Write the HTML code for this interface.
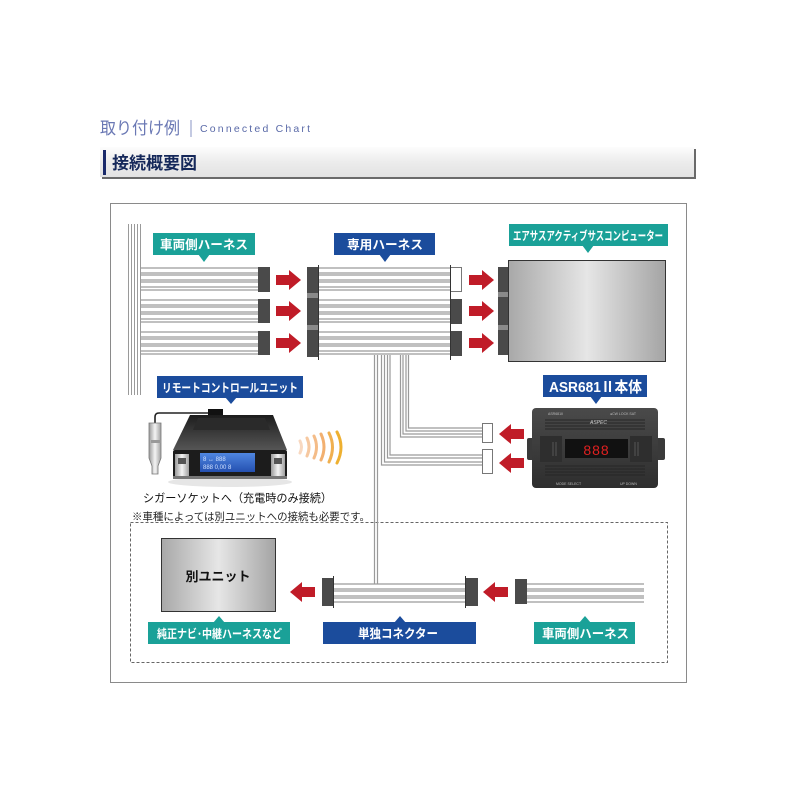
<!DOCTYPE html>
<html><head><meta charset="utf-8"><style>
html,body{margin:0;padding:0;background:#fff;}
svg{display:block;}
text{font-family:"Liberation Sans","Noto Sans CJK JP",sans-serif;}
</style></head><body>
<svg width="800" height="800" viewBox="0 0 800 800" xmlns="http://www.w3.org/2000/svg">
<defs>
<linearGradient id="hdr" x1="0" y1="0" x2="0" y2="1">
<stop offset="0" stop-color="#fdfdfd"/><stop offset="0.5" stop-color="#ececec"/><stop offset="1" stop-color="#e2e2e2"/>
</linearGradient>
<linearGradient id="box" x1="0" y1="0" x2="1" y2="0">
<stop offset="0" stop-color="#a8a8a8"/><stop offset="0.5" stop-color="#e6e6e6"/><stop offset="1" stop-color="#a4a4a4"/>
</linearGradient>
<linearGradient id="dev" x1="0" y1="0" x2="0" y2="1">
<stop offset="0" stop-color="#4a4a4a"/><stop offset="1" stop-color="#2e2e2e"/>
</linearGradient>
<linearGradient id="top" x1="0" y1="0" x2="0" y2="1">
<stop offset="0" stop-color="#1c1c1c"/><stop offset="0.5" stop-color="#3a3a3a"/><stop offset="1" stop-color="#555"/>
</linearGradient>
<linearGradient id="lcd" x1="0" y1="0" x2="0" y2="1">
<stop offset="0" stop-color="#4f86e0"/><stop offset="1" stop-color="#2450b0"/>
</linearGradient>
<linearGradient id="silver" x1="0" y1="0" x2="1" y2="0">
<stop offset="0" stop-color="#9a9a9a"/><stop offset="0.5" stop-color="#f4f4f4"/><stop offset="1" stop-color="#a0a0a0"/>
</linearGradient>
</defs>

<!-- Title -->
<text x="100" y="134" font-size="17" fill="#6a78b4" textLength="80" lengthAdjust="spacingAndGlyphs">取り付け例</text>
<line x1="191" y1="120" x2="191" y2="137" stroke="#8a96c4" stroke-width="1"/>
<text x="200" y="132" font-size="10.5" fill="#5a6aa8" textLength="110" lengthAdjust="spacing">Connected Chart</text>

<!-- Header bar -->
<rect x="102" y="149" width="594" height="30" fill="#6a6a6a"/>
<rect x="100" y="147" width="594" height="30" fill="url(#hdr)"/>
<rect x="103" y="150" width="3" height="25" fill="#1a2a6a"/>
<text x="112" y="169" font-size="17" font-weight="bold" fill="#15285a">接続概要図</text>

<!-- Outer box -->
<rect x="110.5" y="203.5" width="576" height="479" fill="#fff" stroke="#8a8a8a" stroke-width="1"/>
<!-- Dashed box -->
<rect x="130.5" y="522.5" width="537" height="140" fill="none" stroke="#666" stroke-width="1" stroke-dasharray="3,2"/>

<!-- Left vertical wires -->
<g stroke="#9a9a9a" stroke-width="1">
<line x1="128.5" y1="224" x2="128.5" y2="395"/>
<line x1="131.5" y1="224" x2="131.5" y2="395"/>
<line x1="134.5" y1="224" x2="134.5" y2="395"/>
<line x1="137.5" y1="224" x2="137.5" y2="395"/>
<line x1="140.5" y1="224" x2="140.5" y2="395"/>
</g>

<!-- Vehicle harness bundles (top) -->
<g stroke="#9a9a9a" stroke-width="1.2">
<line x1="141" y1="268" x2="258" y2="268"/><line x1="141" y1="273" x2="258" y2="273"/><line x1="141" y1="275" x2="258" y2="275"/><line x1="141" y1="280" x2="258" y2="280"/><line x1="141" y1="282" x2="258" y2="282"/><line x1="141" y1="287" x2="258" y2="287"/><line x1="141" y1="290" x2="258" y2="290"/>
<line x1="141" y1="300" x2="258" y2="300"/><line x1="141" y1="305" x2="258" y2="305"/><line x1="141" y1="307" x2="258" y2="307"/><line x1="141" y1="312" x2="258" y2="312"/><line x1="141" y1="314" x2="258" y2="314"/><line x1="141" y1="319" x2="258" y2="319"/><line x1="141" y1="322" x2="258" y2="322"/>
<line x1="141" y1="332" x2="258" y2="332"/><line x1="141" y1="337" x2="258" y2="337"/><line x1="141" y1="339" x2="258" y2="339"/><line x1="141" y1="344" x2="258" y2="344"/><line x1="141" y1="346" x2="258" y2="346"/><line x1="141" y1="351" x2="258" y2="351"/><line x1="141" y1="354" x2="258" y2="354"/>
</g>
<g fill="#4a4a4a">
<rect x="258" y="267" width="12" height="25"/>
<rect x="258" y="299" width="12" height="24"/>
<rect x="258" y="331" width="12" height="24"/>
</g>

<!-- Dedicated harness bundles -->
<g stroke="#9a9a9a" stroke-width="1.2">
<line x1="318" y1="268" x2="450" y2="268"/><line x1="318" y1="273" x2="450" y2="273"/><line x1="318" y1="275" x2="450" y2="275"/><line x1="318" y1="280" x2="450" y2="280"/><line x1="318" y1="282" x2="450" y2="282"/><line x1="318" y1="287" x2="450" y2="287"/><line x1="318" y1="290" x2="450" y2="290"/>
<line x1="318" y1="300" x2="450" y2="300"/><line x1="318" y1="305" x2="450" y2="305"/><line x1="318" y1="307" x2="450" y2="307"/><line x1="318" y1="312" x2="450" y2="312"/><line x1="318" y1="314" x2="450" y2="314"/><line x1="318" y1="319" x2="450" y2="319"/><line x1="318" y1="322" x2="450" y2="322"/>
<line x1="318" y1="332" x2="450" y2="332"/><line x1="318" y1="337" x2="450" y2="337"/><line x1="318" y1="339" x2="450" y2="339"/><line x1="318" y1="344" x2="450" y2="344"/><line x1="318" y1="346" x2="450" y2="346"/><line x1="318" y1="351" x2="450" y2="351"/><line x1="318" y1="354" x2="450" y2="354"/>
</g>
<rect x="307" y="267" width="11" height="90" fill="#4a4a4a"/>
<rect x="307" y="293" width="11" height="5" fill="#8a8a8a"/>
<rect x="307" y="325" width="11" height="5" fill="#8a8a8a"/>
<line x1="318.5" y1="265" x2="318.5" y2="360" stroke="#333" stroke-width="1"/>
<rect x="450.5" y="267.5" width="11" height="24" fill="#fff" stroke="#777" stroke-width="1"/>
<rect x="450" y="299" width="12" height="25" fill="#4a4a4a"/>
<rect x="450" y="331" width="12" height="25" fill="#4a4a4a"/>
<line x1="450.5" y1="265" x2="450.5" y2="360" stroke="#333" stroke-width="1"/>

<!-- Vertical wires down from dedicated harness -->
<g fill="none" stroke="#9a9a9a" stroke-width="1.2">
<line x1="374.5" y1="355" x2="374.5" y2="584"/>
<line x1="377.5" y1="355" x2="377.5" y2="584"/>
<path d="M381.5 355 V465 H482"/>
<path d="M384.5 355 V462 H482"/>
<path d="M387.5 355 V458 H482"/>
<path d="M390 355 V455 H482"/>
<path d="M400.5 355 V437 H482"/>
<path d="M403 355 V434 H482"/>
<path d="M406 355 V431 H482"/>
<path d="M408.5 355 V428 H482"/>
</g>
<rect x="482.5" y="423.5" width="10" height="19" fill="#fff" stroke="#777"/>
<rect x="482.5" y="449.5" width="10" height="24" fill="#fff" stroke="#777"/>

<!-- ECU -->
<rect x="498" y="267" width="11" height="88" fill="#4a4a4a"/>
<rect x="498" y="292" width="11" height="5" fill="#8a8a8a"/>
<rect x="498" y="325" width="11" height="5" fill="#8a8a8a"/>
<rect x="508.5" y="260.5" width="157" height="101" fill="url(#box)" stroke="#333" stroke-width="1"/>

<!-- Red arrows right -->
<g fill="#c01c28">
<rect x="276" y="275" width="14" height="10"/><polygon points="289,270 301,280 289,290"/>
<rect x="276" y="306" width="14" height="10"/><polygon points="289,301 301,311 289,321"/>
<rect x="276" y="338" width="14" height="10"/><polygon points="289,333 301,343 289,353"/>
<rect x="469" y="275" width="14" height="10"/><polygon points="482,270 494,280 482,290"/>
<rect x="469" y="306" width="14" height="10"/><polygon points="482,301 494,311 482,321"/>
<rect x="469" y="338" width="14" height="10"/><polygon points="482,333 494,343 482,353"/>
<!-- left arrows -->
<rect x="510" y="429" width="14" height="10"/><polygon points="511,424 499,434 511,444"/>
<rect x="510" y="458" width="14" height="10"/><polygon points="511,453 499,463 511,473"/>
<rect x="301" y="587" width="14" height="10"/><polygon points="302,582 290,592 302,602"/>
<rect x="494" y="587" width="14" height="10"/><polygon points="495,582 483,592 495,602"/>
</g>

<!-- ASR681 device -->
<rect x="527" y="438" width="138" height="22" rx="2" fill="#3a3a3a"/>
<rect x="532" y="408" width="126" height="80" rx="4" fill="url(#dev)"/>
<g stroke="#262626" stroke-width="1">
<line x1="545" y1="420" x2="645" y2="420"/><line x1="545" y1="423" x2="645" y2="423"/><line x1="545" y1="426" x2="645" y2="426"/><line x1="545" y1="429" x2="645" y2="429"/>
<line x1="545" y1="466" x2="645" y2="466"/><line x1="545" y1="469" x2="645" y2="469"/><line x1="545" y1="472" x2="645" y2="472"/><line x1="545" y1="475" x2="645" y2="475"/>
</g>
<rect x="540" y="436" width="22" height="26" fill="#2e2e2e"/>
<rect x="630" y="436" width="22" height="26" fill="#2e2e2e"/>
<g stroke="#555" stroke-width="1"><line x1="553" y1="442" x2="553" y2="456"/><line x1="556" y1="442" x2="556" y2="456"/><line x1="635" y1="442" x2="635" y2="456"/><line x1="638" y1="442" x2="638" y2="456"/></g>
<rect x="565" y="439" width="63" height="19" fill="#111"/>
<text x="596.5" y="455" font-size="14" fill="#e02020" text-anchor="middle" font-family="Liberation Mono, monospace" letter-spacing="1">888</text>
<text x="548" y="415" font-size="3.5" fill="#bbb">ASR681II</text>
<text x="610" y="415" font-size="3.5" fill="#bbb">●CW LOCK  SAT</text>
<text x="590" y="424" font-size="5" fill="#ccc" font-style="italic">ASPEC</text>
<text x="556" y="485" font-size="3.5" fill="#bbb">MODE  SELECT</text>
<text x="620" y="485" font-size="3.5" fill="#bbb">UP   DOWN</text>

<!-- Remote unit -->
<ellipse cx="230" cy="482" rx="62" ry="5" fill="#e6e6e6"/>
<path d="M216 413 H159 Q155 413 155 417 V423" fill="none" stroke="#222" stroke-width="1.6"/>
<rect x="208" y="409" width="15" height="8" fill="#111"/>
<path d="M149 423 H161 V458 L158 466 V474 H152 V466 L149 458 Z" fill="url(#silver)" stroke="#777" stroke-width="0.8"/>
<rect x="151" y="440" width="10" height="3" fill="#999"/>
<polygon points="190,415 273,415 287,450 173,450" fill="url(#top)"/>
<polygon points="198,418 265,418 270,430 193,430" fill="#2a2a2a"/>
<rect x="173" y="450" width="114" height="28" rx="2" fill="#1c1c1c"/>
<rect x="173" y="476" width="114" height="3" fill="#777"/>
<rect x="200" y="453" width="55" height="19" fill="url(#lcd)"/>
<g fill="#cfe0ff" font-size="6" font-family="Liberation Mono, monospace"><text x="203" y="461">8 ↔  888</text><text x="203" y="469">888 0,00 8</text></g>
<rect x="175" y="454" width="14" height="22" fill="url(#silver)"/>
<rect x="271" y="454" width="14" height="22" fill="url(#silver)"/>
<rect x="178" y="458" width="8" height="6" fill="#555"/>
<rect x="274" y="458" width="8" height="6" fill="#555"/>

<!-- Waves -->
<g fill="none" stroke-width="3" stroke-linecap="round">
<path d="M300 441 Q303 447 300 453" stroke="#f8d8c0"/>
<path d="M307 438 Q311 447 307 456" stroke="#f6c8a0"/>
<path d="M314 436 Q319 447 314 458" stroke="#f4bc88"/>
<path d="M321 434 Q327 447 321 460" stroke="#f2b070"/>
<path d="M329 433 Q336 447 329 462" stroke="#f0b050"/>
<path d="M337 432 Q345 447 337 463" stroke="#eeb030"/>
</g>

<text x="143" y="502" font-size="11.5" fill="#111" textLength="189" lengthAdjust="spacingAndGlyphs">シガーソケットへ（充電時のみ接続）</text>
<text x="132" y="520" font-size="10.5" fill="#222" textLength="238" lengthAdjust="spacingAndGlyphs">※車種によっては別ユニットへの接続も必要です。</text>

<!-- Lower section -->
<rect x="161.5" y="538.5" width="114" height="73" fill="url(#box)" stroke="#333" stroke-width="1"/>
<text x="218" y="581" font-size="13" font-weight="bold" fill="#111" text-anchor="middle">別ユニット</text>

<g stroke="#9a9a9a" stroke-width="1.2">
<line x1="333" y1="584" x2="465" y2="584"/><line x1="333" y1="589" x2="465" y2="589"/><line x1="333" y1="591" x2="465" y2="591"/><line x1="333" y1="596" x2="465" y2="596"/><line x1="333" y1="598" x2="465" y2="598"/><line x1="333" y1="602" x2="465" y2="602"/>
<line x1="527" y1="584" x2="644" y2="584"/><line x1="527" y1="589" x2="644" y2="589"/><line x1="527" y1="591" x2="644" y2="591"/><line x1="527" y1="596" x2="644" y2="596"/><line x1="527" y1="598" x2="644" y2="598"/><line x1="527" y1="602" x2="644" y2="602"/>
</g>
<rect x="322" y="578" width="11" height="28" fill="#4a4a4a"/>
<line x1="333.5" y1="576" x2="333.5" y2="608" stroke="#333"/>
<rect x="466" y="578" width="12" height="28" fill="#4a4a4a"/>
<line x1="465.5" y1="576" x2="465.5" y2="608" stroke="#333"/>
<rect x="515" y="579" width="12" height="25" fill="#4a4a4a"/>

<!-- Labels -->
<g font-weight="bold" fill="#fff" font-size="12.5">
<rect x="153" y="233" width="102" height="22" fill="#1aa198"/>
<polygon points="198,254 210,254 204,262" fill="#1aa198"/>
<text x="160" y="249" textLength="88" lengthAdjust="spacingAndGlyphs">車両側ハーネス</text>

<rect x="334" y="233" width="101" height="22" fill="#1b4c9c"/>
<polygon points="379,254 391,254 385,262" fill="#1b4c9c"/>
<text x="347" y="249" textLength="76" lengthAdjust="spacingAndGlyphs">専用ハーネス</text>

<rect x="509" y="224" width="159" height="22" fill="#1aa198"/>
<polygon points="582,245 594,245 588,253" fill="#1aa198"/>
<text x="513" y="240" textLength="150" lengthAdjust="spacingAndGlyphs" font-size="12">エアサスアクティブサスコンピューター</text>

<rect x="157" y="376" width="146" height="22" fill="#1b4c9c"/>
<polygon points="225,397 237,397 231,404" fill="#1b4c9c"/>
<text x="162" y="392" textLength="136" lengthAdjust="spacingAndGlyphs" font-size="12">リモートコントロールユニット</text>

<rect x="543" y="375" width="104" height="22" fill="#1b4c9c"/>
<polygon points="590,396 602,396 596,404" fill="#1b4c9c"/>
<text x="549" y="392" textLength="93" lengthAdjust="spacingAndGlyphs" font-size="15">ASR681Ⅱ本体</text>

<rect x="148" y="622" width="142" height="22" fill="#1aa198"/>
<polygon points="213,623 225,623 219,616" fill="#1aa198"/>
<text x="157" y="638" textLength="125" lengthAdjust="spacingAndGlyphs" font-size="12">純正ナビ･中継ハーネスなど</text>

<rect x="323" y="622" width="153" height="22" fill="#1b4c9c"/>
<polygon points="394,623 406,623 400,616" fill="#1b4c9c"/>
<text x="358" y="638" textLength="80" lengthAdjust="spacingAndGlyphs">単独コネクター</text>

<rect x="534" y="622" width="101" height="22" fill="#1aa198"/>
<polygon points="579,623 591,623 585,616" fill="#1aa198"/>
<text x="542" y="638" textLength="87" lengthAdjust="spacingAndGlyphs">車両側ハーネス</text>
</g>
</svg>
</body></html>
